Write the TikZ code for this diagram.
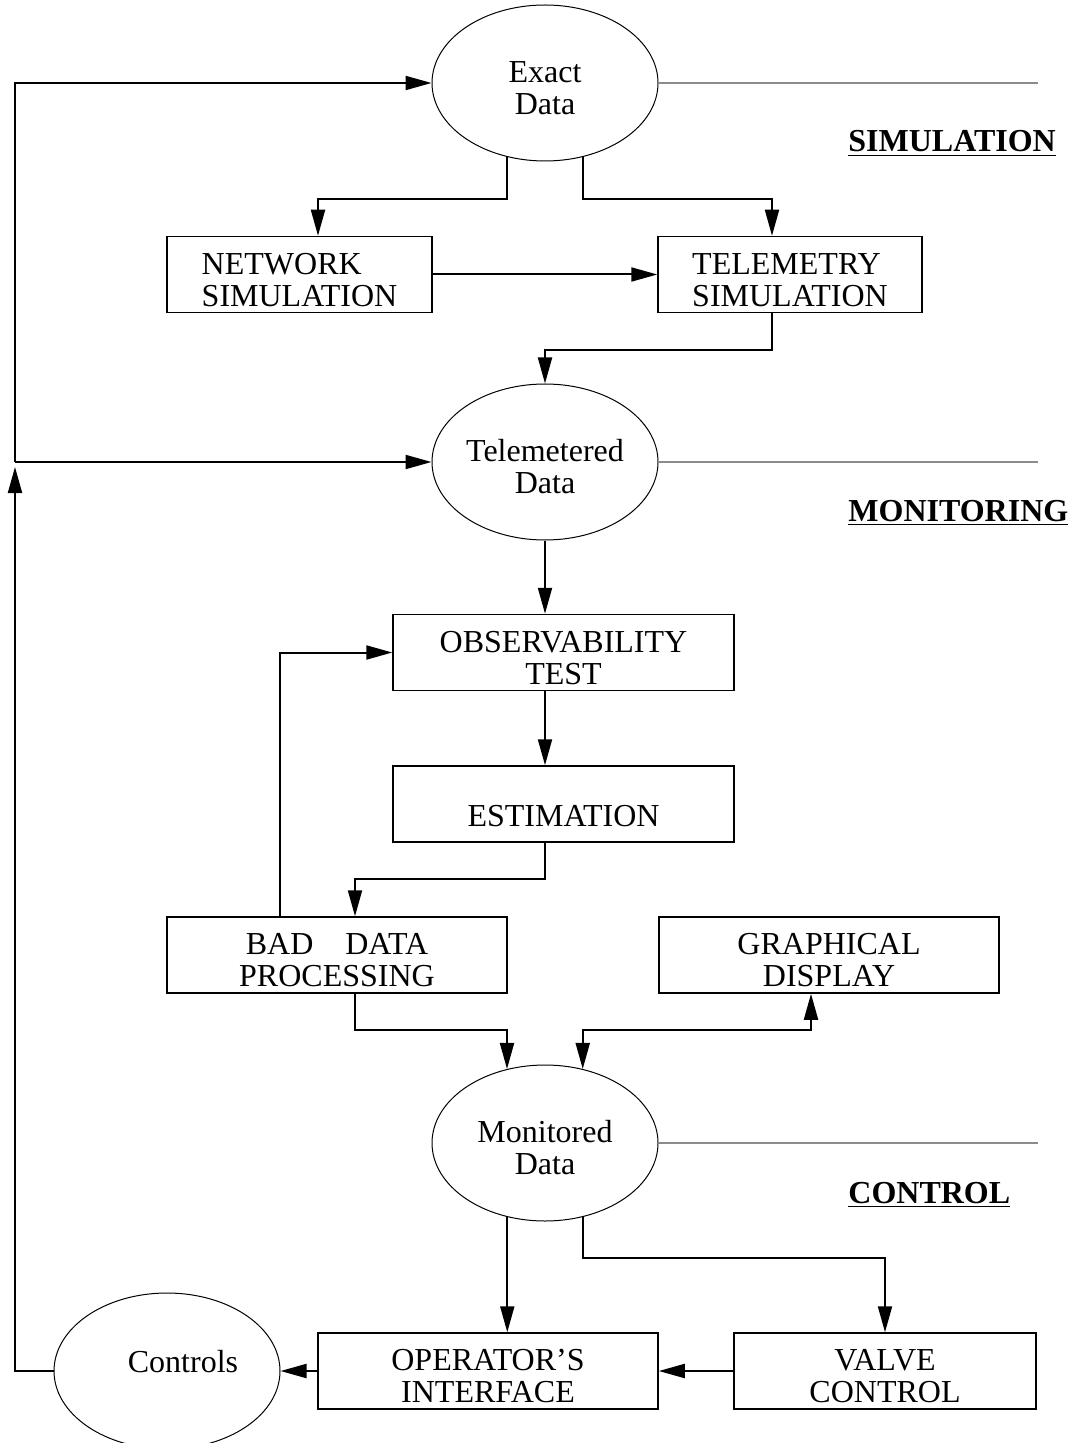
\documentclass[tikz,border=0pt]{standalone}
\usepackage{fontspec}
\setmainfont{Liberation Serif}
\usepackage{tikz}
\usetikzlibrary{shapes.geometric}
\usetikzlibrary{arrows.meta}
\tikzset{
    txt/.style={font=\fontsize{16}{16}\selectfont, align=center, text height=32pt},
    blob/.style={txt, draw, ellipse, line width=0.5pt, minimum width=113pt, minimum height=78pt, inner sep=0pt},
    blk/.style={txt, draw, rectangle, line width=0.75pt, minimum width=#1, minimum height=38pt, inner sep=0pt},
    arr/.style={line width=1pt, -{Triangle[length=13pt,width=7pt]}},
    dbl/.style={line width=1pt, {Triangle[length=13pt,width=7pt]}-{Triangle[length=13pt,width=7pt]}},
    rule/.style={line width=1pt, draw=black!45},
    sect/.style={font=\fontsize{16}{16}\selectfont\bfseries, anchor=base west, inner sep=0pt}
}

\begin{document}
\begin{tikzpicture}[x=0.5pt, y=-0.5pt]
    \useasboundingbox (0,0) rectangle (1077,1443);
    % data stores
    \node[blob] (exact) at (545,83) {Exact\\Data};
    \node[blob] (tmd) at (545,462) {Telemetered\\Data};
    \node[blob] (mon) at (545,1143) {Monitored\\Data};
    \node[blob, text height=11pt, text depth=10pt] (ctl) at (167,1371) {\hspace*{16pt}Controls};
    % processes
    \node[blk=132.5pt, align=left] (net) at (299.5,274.5) {NETWORK\\SIMULATION};
    \node[blk=132pt, align=left] (tel) at (790,274.5) {TELEMETRY\\SIMULATION};
    \node[blk=170.5pt] (obs) at (563.5,652.5) {OBSERVABILITY\\TEST};
    \node[blk=170.5pt, text height=22pt, text depth=0pt] (est) at (563.5,804) {ESTIMATION};
    \node[blk=170pt] (bad) at (337,955) {BAD\hspace{1em}DATA\\PROCESSING};
    \node[blk=170pt] (gra) at (829,955) {GRAPHICAL\\DISPLAY};
    \node[blk=170pt] (op) at (488,1371) {OPERATOR’S\\INTERFACE};
    \node[blk=151pt] (val) at (885,1371) {VALVE\\CONTROL};
    % sections
    \coordinate (gend) at (1038,0);
    \node[sect] (simlbl) at (848,152) {\underline{SIMULATION}};
    \node[sect] (monlbl) at (848,521) {\underline{MONITORING}};
    \node[sect] (ctllbl) at (848,1203) {\underline{CONTROL}};
    \draw[rule] (exact.east) -- (exact.east -| gend);
    \draw[rule] (tmd.east) -- (tmd.east -| gend);
    \draw[rule] (mon.east) -- (mon.east -| gend);
    % bends
    \coordinate (j1) at (318,199);
    \coordinate (j2) at (772,199);
    \coordinate (j3) at (545,350);
    \coordinate (j4) at (355,879);
    \coordinate (j5) at (280,0);
    \coordinate (j6) at (507,1030);
    \coordinate (j8) at (811,1030);
    \coordinate (j9) at (885,1258);
    \coordinate (lp) at (15,467);
    % simulation
    \draw[arr] (exact.243) |- (j1) -- (j1 |- net.north);
    \draw[arr] (exact.297) |- (j2) -- (j2 |- tel.north);
    \draw[arr] (net.east) -- (tel.west);
    \draw[arr] (j2 |- tel.south) |- (j3) -- (tmd.north);
    % monitoring
    \draw[arr] (tmd.south) -- (tmd.south |- obs.north);
    \draw[arr] (tmd.south |- obs.south) -- (tmd.south |- est.north);
    \draw[arr] (tmd.south |- est.south) |- (j4) -- (j4 |- bad.north);
    \draw[arr] (j5 |- bad.north) |- (obs.west);
    \draw[arr] (j4 |- bad.south) |- (j6) -- (j6 |- mon.117);
    \draw[dbl] (mon.63) |- (j8) -- (j8 |- gra.south);
    % control
    \draw[arr] (mon.243) -- (mon.243 |- op.north);
    \draw[arr] (mon.297) |- (j9) -- (j9 |- val.north);
    \draw[arr] (val.west) -- (op.east);
    \draw[arr] (op.west) -- (ctl.east);
    % loop back
    \draw[arr] (ctl.west) -| (lp);
    \draw[arr] (lp |- tmd.west) |- (exact.west);
    \draw[arr] (lp |- tmd.west) -- (tmd.west);
\end{tikzpicture}
\end{document}
